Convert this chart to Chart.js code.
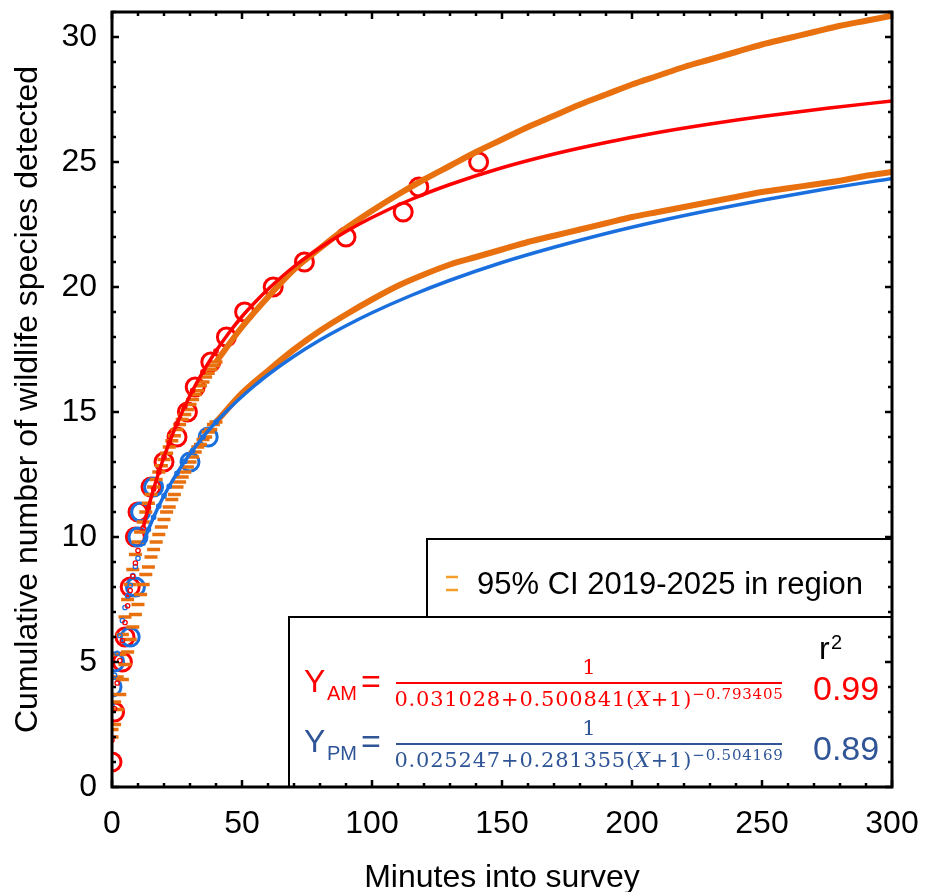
<!DOCTYPE html>
<html>
<head>
<meta charset="utf-8">
<script src="https://cdn.jsdelivr.net/npm/chart.js@4.4.1/dist/chart.umd.min.js"></script>
<style>
  html, body { margin: 0; padding: 0; background: #fff; }
  #wrap { width: 927px; height: 892px; }
</style>
</head>
<body>
<div id="wrap"><canvas id="chart" width="927" height="892"></canvas></div>
<script>
// observed cumulative species counts
const amMinutes = [0, 1, 4, 5, 7, 9, 10, 15, 20, 25, 29, 32, 38, 44, 51, 62, 74, 90, 112, 118, 141];
const amSpecies = [1, 3, 5, 6, 8, 10, 11, 12, 13, 14, 15, 16, 17, 18, 19, 20, 21, 22, 23, 24, 25];
const pmMinutes = [0, 1, 7, 9, 10, 11, 16, 30, 37];
const pmSpecies = [4, 5, 6, 8, 10, 11, 12, 13, 14];

// fitted curves
const fitMinutes = [0, 1, 2, 3, 4, 5, 6, 7, 8, 9, 10, 12, 14, 16, 18, 20, 22, 25, 28, 31, 35, 40,
  45, 50, 55, 60, 70, 80, 90, 100, 115, 130, 150, 170, 190, 210, 230, 250, 275, 300];
const amFit = [1.88, 3.13, 4.16, 5.06, 5.86, 6.58, 7.25, 7.86, 8.43, 8.96, 9.46, 10.37, 11.18, 11.92, 12.59, 13.20, 13.77, 14.54, 15.23, 15.86, 16.61, 17.44,
  18.17, 18.82, 19.39, 19.91, 20.82, 21.57, 22.22, 22.78, 23.50, 24.10, 24.77, 25.32, 25.78, 26.18, 26.52, 26.82, 27.15, 27.44];
const pmFit = [3.26, 4.47, 5.35, 6.06, 6.66, 7.18, 7.65, 8.07, 8.46, 8.82, 9.15, 9.76, 10.30, 10.79, 11.24, 11.65, 12.03, 12.55, 13.03, 13.46, 14.00, 14.60,
  15.13, 15.62, 16.07, 16.49, 17.23, 17.88, 18.45, 18.97, 19.66, 20.27, 20.98, 21.59, 22.14, 22.63, 23.07, 23.47, 23.93, 24.34];

// regional 95% CI, one dash per minute early on, then a dense band
const ciDashMinutes = [0, 1, 2, 3, 4, 5, 6, 7, 8, 9, 10, 11, 12, 13, 14, 15, 16, 17, 18, 19, 20,
  21, 22, 23, 24, 25, 26, 27, 28, 29, 30, 31, 32, 33, 34, 35, 36, 37, 38, 39, 40];
const ciUpperDash = [2.3, 3.4, 4.4, 5.3, 6.1, 6.8, 7.5, 8.1, 8.7, 9.3, 9.8, 10.2, 10.6, 11.0, 11.35, 11.7, 12.0, 12.3, 12.6, 12.85, 13.1,
  13.35, 13.6, 13.85, 14.05, 14.3, 14.5, 14.7, 14.9, 15.1, 15.3, 15.5, 15.7, 15.85, 16.05, 16.2, 16.4, 16.55, 16.7, 16.85, 17.0];
const ciLowerDash = [2.0, 2.5, 3.1, 3.7, 4.3, 4.9, 5.4, 5.9, 6.4, 6.9, 7.3, 7.7, 8.1, 8.5, 8.8, 9.2, 9.5, 9.8, 10.1, 10.4, 10.7,
  11.0, 11.2, 11.5, 11.7, 12.0, 12.2, 12.4, 12.6, 12.8, 13.0, 13.2, 13.4, 13.6, 13.7, 13.9, 14.0, 14.2, 14.3, 14.5, 14.6];
const ciBandMinutes = [40, 50, 60, 70, 80, 90, 100, 110, 120, 130, 140, 150, 160, 170, 180, 190, 200, 210, 220, 230, 240, 250, 260, 270, 280, 290, 300];
const ciUpperBand = [17.0, 18.4, 19.6, 20.7, 21.55, 22.35, 23.05, 23.7, 24.3, 24.85, 25.4, 25.9, 26.4, 26.85, 27.3, 27.7, 28.1, 28.45, 28.8, 29.1, 29.4, 29.7, 29.95, 30.2, 30.45, 30.65, 30.85];
const ciLowerBand = [14.6, 15.75, 16.65, 17.5, 18.25, 18.9, 19.5, 20.05, 20.5, 20.9, 21.2, 21.5, 21.8, 22.05, 22.3, 22.55, 22.8, 23.0, 23.2, 23.4, 23.6, 23.8, 23.95, 24.1, 24.25, 24.45, 24.6];

// axes
const xTickLabels = [0, 50, 100, 150, 200, 250, 300];
const yTickLabels = [0, 5, 10, 15, 20, 25, 30];
const xMinorStep = 10;
const yMinorStep = 1;

const RED = '#FF0000';
const BLUE = '#1A6FDF';
const ORANGE = '#E8700E';
const EQ_BLUE = '#2F5597';

const toXY = (xs, ys) => xs.map((x, i) => ({ x: x, y: ys[i] }));

Chart.defaults.font.family = '"Liberation Sans", Arial, sans-serif';
Chart.defaults.color = '#000';

function fitDataset(label, values, color, order) {
  return {
    label: label,
    data: toXY(fitMinutes, values),
    showLine: true,
    borderColor: color,
    borderWidth: 3.5,
    cubicInterpolationMode: 'monotone',
    pointRadius: ctx => (ctx.raw && ctx.raw.x <= 40 ? 2.2 : 0),
    pointBorderWidth: 1.3,
    pointBorderColor: color,
    pointBackgroundColor: 'rgba(255,255,255,0)',
    segment: {
      borderColor: ctx => (ctx.p0.parsed.x < 12 ? 'rgba(0,0,0,0)' : undefined)
    },
    order: order
  };
}

function dashDataset(label, values) {
  return {
    label: label,
    data: toXY(ciDashMinutes, values),
    showLine: false,
    pointStyle: 'line',
    pointRadius: 6.5,
    pointBorderWidth: 3.5,
    pointBorderColor: ORANGE,
    order: 2
  };
}

function bandDataset(label, values) {
  return {
    label: label,
    data: toXY(ciBandMinutes, values),
    showLine: true,
    borderColor: ORANGE,
    borderWidth: 6,
    cubicInterpolationMode: 'monotone',
    pointRadius: 0,
    order: 2
  };
}

function obsDataset(label, xs, ys, color, order) {
  return {
    label: label,
    data: toXY(xs, ys),
    showLine: false,
    pointStyle: 'circle',
    pointRadius: 9,
    pointBorderWidth: 3,
    pointBorderColor: color,
    pointBackgroundColor: 'rgba(255,255,255,0)',
    order: order
  };
}

// text pieces of the fitted equations
function drawEquation(ctx, eq) {
  ctx.fillStyle = eq.color;
  ctx.strokeStyle = eq.color;
  ctx.textBaseline = 'alphabetic';
  ctx.textAlign = 'left';

  ctx.font = '32px "Liberation Sans"';
  ctx.fillText('Y', 304, eq.base);
  ctx.font = '20px "Liberation Sans"';
  ctx.fillText(eq.sub, 327, eq.base + 8);
  ctx.font = '34px "Liberation Sans"';
  ctx.fillText('=', 361, eq.base + 1);

  const barL = 396, barR = 782, mid = (barL + barR) / 2;
  ctx.lineWidth = 2;
  ctx.beginPath();
  ctx.moveTo(barL, eq.bar);
  ctx.lineTo(barR, eq.bar);
  ctx.stroke();

  ctx.font = '21px "DejaVu Serif"';
  ctx.textAlign = 'center';
  ctx.fillText('1', mid, eq.bar - 9);

  ctx.textAlign = 'left';
  ctx.letterSpacing = '0.8px';
  const parts = [
    { t: eq.a + '+' + eq.b + '(', f: '21px "DejaVu Serif"', dy: 0 },
    { t: 'X', f: 'italic 21px "DejaVu Serif"', dy: 0 },
    { t: '+1)', f: '21px "DejaVu Serif"', dy: 0 },
    { t: '\u2212' + eq.c, f: '15px "DejaVu Serif"', dy: -7 }
  ];
  let total = 0;
  parts.forEach(p => { ctx.font = p.f; p.w = ctx.measureText(p.t).width; total += p.w; });
  let px = mid - total / 2;
  parts.forEach(p => {
    ctx.font = p.f;
    ctx.fillText(p.t, px, eq.bar + 23 + p.dy);
    px += p.w;
  });
  ctx.letterSpacing = '0px';

  ctx.font = '34px "Liberation Sans"';
  ctx.fillText(eq.r2, 813, eq.base + 8);
}

const equations = [
  { color: RED, sub: 'AM', a: '0.031028', b: '0.500841', c: '0.793405', r2: '0.99', base: 692, bar: 683 },
  { color: EQ_BLUE, sub: 'PM', a: '0.025247', b: '0.281355', c: '0.504169', r2: '0.89', base: 752, bar: 744 }
];

const frameAndBoxes = {
  id: 'frameAndBoxes',
  afterDatasetsDraw(chart) {
    const { ctx, chartArea: a, scales: { x, y } } = chart;
    ctx.save();

    // legend box and equation box
    const legL = 427, legT = 539, eqL = 289, eqT = 617;
    ctx.fillStyle = '#fff';
    ctx.fillRect(legL, legT, a.right - legL, eqT - legT);
    ctx.fillRect(eqL, eqT, a.right - eqL, a.bottom - eqT);
    ctx.strokeStyle = '#000';
    ctx.lineWidth = 2;
    ctx.beginPath();
    ctx.moveTo(legL, eqT);
    ctx.lineTo(legL, legT);
    ctx.lineTo(a.right, legT);
    ctx.moveTo(eqL, a.bottom);
    ctx.lineTo(eqL, eqT);
    ctx.lineTo(a.right, eqT);
    ctx.stroke();

    ctx.strokeStyle = '#F5A02A';
    ctx.lineWidth = 2.5;
    ctx.beginPath();
    ctx.moveTo(446, 577); ctx.lineTo(458, 577);
    ctx.moveTo(446, 590); ctx.lineTo(458, 590);
    ctx.stroke();
    ctx.fillStyle = '#000';
    ctx.font = '31px "Liberation Sans"';
    ctx.textBaseline = 'alphabetic';
    ctx.fillText('95% CI 2019-2025 in region', 477, 594);

    ctx.font = '32px "Liberation Sans"';
    ctx.fillText('r', 819, 659);
    ctx.font = '20px "Liberation Sans"';
    ctx.fillText('2', 831, 649);

    equations.forEach(eq => drawEquation(ctx, eq));

    // inward ticks on all four sides
    ctx.strokeStyle = '#000';
    ctx.lineWidth = 2.5;
    ctx.beginPath();
    for (let v = x.min; v <= x.max; v += xMinorStep) {
      const px = x.getPixelForValue(v);
      const len = xTickLabels.includes(v) ? 7 : 4;
      ctx.moveTo(px, a.bottom); ctx.lineTo(px, a.bottom - len);
      ctx.moveTo(px, a.top); ctx.lineTo(px, a.top + len);
    }
    for (let v = y.min; v <= y.max; v += yMinorStep) {
      const py = y.getPixelForValue(v);
      const len = yTickLabels.includes(v) ? 7 : 4;
      ctx.moveTo(a.left, py); ctx.lineTo(a.left + len, py);
      ctx.moveTo(a.right, py); ctx.lineTo(a.right - len, py);
    }
    ctx.stroke();

    ctx.lineWidth = 3;
    ctx.strokeRect(a.left, a.top, a.right - a.left, a.bottom - a.top);
    ctx.restore();
  }
};

new Chart(document.getElementById('chart'), {
  type: 'scatter',
  data: {
    datasets: [
      fitDataset('AM fit', amFit, RED, 0),
      fitDataset('PM fit', pmFit, BLUE, 1),
      dashDataset('95% CI upper', ciUpperDash),
      dashDataset('95% CI lower', ciLowerDash),
      bandDataset('95% CI upper band', ciUpperBand),
      bandDataset('95% CI lower band', ciLowerBand),
      obsDataset('PM', pmMinutes, pmSpecies, BLUE, 5),
      obsDataset('AM', amMinutes, amSpecies, RED, 6)
    ]
  },
  options: {
    responsive: false,
    animation: false,
    devicePixelRatio: 1,
    events: [],
    layout: { padding: { left: 0, top: 10, right: 35, bottom: 0 } },
    plugins: {
      legend: { display: false },
      tooltip: { enabled: false }
    },
    scales: {
      x: {
        type: 'linear',
        min: 0,
        max: 300,
        afterBuildTicks: s => { s.ticks = xTickLabels.map(v => ({ value: v })); },
        afterFit: s => { s.height = 105; s.paddingLeft = 0; s.paddingRight = 0; },
        grid: { display: false, drawTicks: false },
        border: { display: false },
        ticks: { font: { size: 32, lineHeight: 1.2 }, padding: 18, maxRotation: 0 },
        title: {
          display: true,
          text: 'Minutes into survey',
          font: { size: 32, lineHeight: 1 },
          padding: { top: 0, bottom: -2 }
        }
      },
      y: {
        type: 'linear',
        min: 0,
        max: 31,
        afterBuildTicks: s => { s.ticks = yTickLabels.map(v => ({ value: v })); },
        afterFit: s => { s.width = 112; s.paddingTop = 0; s.paddingBottom = 0; },
        grid: { display: false, drawTicks: false },
        border: { display: false },
        ticks: { font: { size: 32, lineHeight: 1.2 }, padding: 15 },
        title: {
          display: true,
          text: 'Cumulative number of wildlife species detected',
          font: { size: 32, lineHeight: 1 },
          padding: { top: 12, bottom: 0 }
        }
      }
    }
  },
  plugins: [frameAndBoxes]
});
</script>
</body>
</html>
